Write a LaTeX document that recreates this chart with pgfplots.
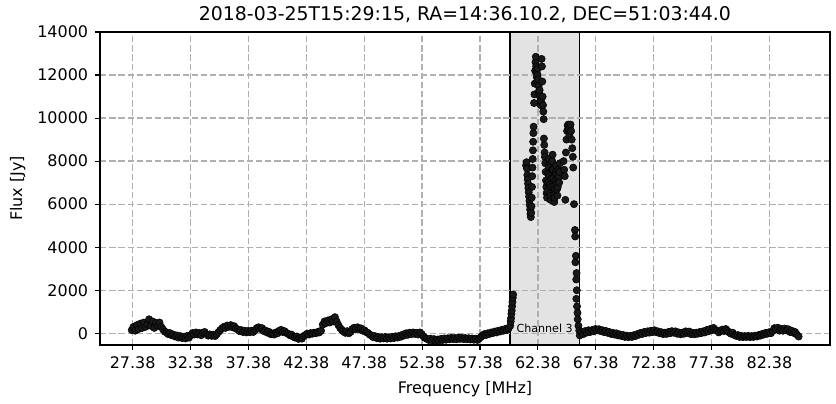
\documentclass[border=0pt]{standalone}
\usepackage{fontspec}
\setmainfont{DejaVu Sans}
\usepackage{pgfplots}
\pgfplotsset{compat=1.18}

% baseline left of the channel, channel 3 band, baseline right of it
\pgfplotstableread{
f flux
27.30 150
27.45 300
27.60 120
27.75 380
27.90 200
28.05 450
28.20 250
28.35 500
28.50 300
28.65 420
28.80 650
28.95 350
29.10 550
29.25 250
29.40 480
29.55 350
29.70 500
29.85 300
30.00 180
30.15 80
30.30 40
30.45 -40
30.60 10
30.75 -90
30.90 -60
31.05 -150
31.20 -100
31.35 -200
31.50 -130
31.65 -220
31.80 -160
31.95 -240
32.10 -120
32.25 -200
32.40 -80
32.55 10
32.70 -60
32.85 40
33.00 -50
33.15 10
33.30 -90
33.45 30
33.60 60
33.75 -40
33.90 -110
34.05 -50
34.20 -120
34.35 -60
34.50 -130
34.65 -40
34.80 60
34.95 150
35.10 230
35.25 300
35.40 250
35.55 360
35.70 300
35.85 380
36.00 280
36.15 330
36.30 220
36.45 180
36.60 100
36.75 150
36.90 60
37.05 120
37.20 40
37.35 110
37.50 50
37.65 120
37.80 60
37.95 150
38.10 240
38.25 280
38.40 200
38.55 240
38.70 100
38.85 130
39.00 30
39.15 70
39.30 -40
39.45 -10
39.60 -60
39.75 40
39.90 0
40.05 120
40.20 160
40.35 60
40.50 100
40.65 20
40.80 -20
40.95 -90
41.10 -60
41.25 -160
41.40 -200
41.55 -150
41.70 -260
41.85 -200
42.00 -250
42.15 -130
42.30 -80
42.45 -20
42.60 -60
42.75 10
42.90 -20
43.05 30
43.20 0
43.35 60
43.50 40
43.65 120
43.80 400
43.95 550
44.10 480
44.25 600
44.40 500
44.55 650
44.70 550
44.85 750
45.00 550
45.15 380
45.30 250
45.45 150
45.60 80
45.75 20
45.90 100
46.05 0
46.20 60
46.35 200
46.50 260
46.65 180
46.80 280
46.95 200
47.10 230
47.25 120
47.40 140
47.55 60
47.70 20
47.85 -60
48.00 -100
48.15 -180
48.30 -130
48.45 -220
48.60 -170
48.75 -250
48.90 -180
49.05 -240
49.20 -170
49.35 -250
49.50 -190
49.65 -240
49.80 -160
49.95 -220
50.10 -140
50.25 -200
50.40 -120
50.55 -160
50.70 -60
50.85 -100
51.00 0
51.15 -70
51.30 30
51.45 -40
51.60 40
51.75 -30
51.90 20
52.05 -60
52.20 40
52.35 -40
52.50 -150
52.65 -220
52.80 -260
52.95 -310
53.10 -250
53.25 -330
53.40 -270
53.55 -350
53.70 -290
53.85 -330
54.00 -260
54.15 -310
54.30 -240
54.45 -300
54.60 -230
54.75 -280
54.90 -210
55.05 -270
55.20 -220
55.35 -280
55.50 -200
55.65 -260
55.80 -210
55.95 -270
56.10 -220
56.25 -280
56.40 -230
56.55 -290
56.70 -240
56.85 -300
57.00 -250
57.15 -310
57.30 -250
57.45 -180
57.60 -100
57.75 -40
57.90 -80
58.05 0
58.20 -30
58.35 40
58.50 10
58.65 80
58.80 40
58.95 120
59.10 80
59.25 160
59.40 120
59.55 200
59.70 150
59.85 230
}\lowleft

\pgfplotstableread{
f flux
59.99 350
60.03 550
60.06 700
60.09 900
60.12 1050
60.15 1250
60.18 1450
60.21 1650
60.24 1800
61.36 7800
61.40 7950
61.44 7650
61.47 7350
61.50 7150
61.53 6950
61.56 6750
61.59 6550
61.62 6350
61.65 6150
61.68 5950
61.71 5750
61.74 5550
61.77 5400
61.80 5600
61.83 5900
61.85 6300
61.87 6800
61.89 7300
61.91 7700
61.93 8100
61.95 8500
61.97 8900
61.99 9300
62.01 9600
62.05 10700
62.08 11100
62.11 11600
62.14 12200
62.17 12600
62.20 12850
62.23 12400
62.26 12100
62.29 11900
62.32 11700
62.35 12000
62.38 12300
62.41 11800
62.44 11500
62.47 11250
62.50 11100
62.53 11300
62.56 11000
62.59 10800
62.62 10600
62.65 10800
62.70 12750
62.73 12400
62.76 11700
62.79 11000
62.82 10600
62.85 10300
62.88 9950
62.90 9050
62.93 8750
62.96 8400
62.99 8200
63.02 7900
63.05 7500
63.08 7100
63.11 6800
63.14 6500
63.17 6300
63.20 6600
63.23 7000
63.26 7400
63.29 7800
63.32 8100
63.35 7700
63.38 7300
63.41 6900
63.44 6500
63.47 6200
63.50 6400
63.53 6800
63.56 7200
63.59 7600
63.62 8000
63.65 8300
63.68 7600
63.71 7200
63.74 6800
63.77 6400
63.80 6100
63.83 6300
63.86 6700
63.89 7100
63.92 7500
63.95 7800
63.98 7400
64.01 7000
64.04 6700
64.07 6400
64.10 6800
64.13 7200
64.16 7600
64.19 7300
64.22 7000
64.25 7500
64.28 7900
64.60 8000
64.65 7600
64.70 7300
64.75 6200
64.80 8400
64.85 9000
64.90 9400
64.95 9650
65.00 9700
65.05 9500
65.10 9200
65.15 9600
65.20 9700
65.25 9400
65.30 9000
65.35 8600
65.40 8200
65.43 7700
65.50 6000
65.58 4800
65.60 4500
65.66 3600
65.62 3300
65.72 2800
65.69 2500
65.74 2000
65.70 1600
65.76 1250
65.80 950
65.82 650
65.88 350
65.95 120
}\band

\pgfplotstableread{
f flux
66.00 -100
66.15 50
66.30 -40
66.45 100
66.60 30
66.75 140
66.90 60
67.05 150
67.20 90
67.35 200
67.50 140
67.65 190
67.80 100
67.95 140
68.10 50
68.25 110
68.40 20
68.55 60
68.70 -30
68.85 20
69.00 -60
69.15 0
69.30 -100
69.45 -50
69.60 -130
69.75 -80
69.90 -170
70.05 -110
70.20 -180
70.35 -120
70.50 -170
70.65 -90
70.80 -130
70.95 -40
71.10 -70
71.25 20
71.40 -30
71.55 60
71.70 10
71.85 90
72.00 30
72.15 120
72.30 60
72.45 140
72.60 50
72.75 90
72.90 0
73.05 50
73.20 -40
73.35 30
73.50 -30
73.65 60
73.80 0
73.95 100
74.10 30
74.25 90
74.40 -20
74.55 40
74.70 -50
74.85 30
75.00 -20
75.15 90
75.30 20
75.45 80
75.60 -40
75.75 20
75.90 -50
76.05 30
76.20 -20
76.35 60
76.50 10
76.65 90
76.80 40
76.95 150
77.10 90
77.25 200
77.40 140
77.55 250
77.70 160
77.85 120
78.00 40
78.15 110
78.30 170
78.45 100
78.60 200
78.75 120
78.90 40
79.05 -20
79.20 30
79.35 -80
79.50 -120
79.65 -80
79.80 -170
79.95 -120
80.10 -180
80.25 -130
80.40 -170
80.55 -120
80.70 -180
80.85 -130
81.00 -170
81.15 -110
81.30 -150
81.45 -80
81.60 -110
81.75 -30
81.90 -60
82.05 20
82.20 -20
82.35 50
82.50 0
82.65 100
82.80 240
82.95 180
83.10 260
83.25 120
83.40 200
83.55 120
83.70 220
83.85 140
84.00 190
84.15 60
84.30 120
84.45 20
84.60 60
84.75 -60
84.90 -150
}\highright

\begin{document}
\begin{tikzpicture}
\useasboundingbox (0,0) rectangle (601.92pt,290.88pt);
\begin{axis}[
  at={(72pt,42.48pt)}, anchor=south west,
  scale only axis, width=525.6pt, height=225.36pt,
  xmin=24.56, xmax=87.61, ymin=-544, ymax=14000,
  xtick={27.38,32.38,37.38,42.38,47.38,52.38,57.38,62.38,67.38,72.38,77.38,82.38},
  xticklabels={27.38,32.38,37.38,42.38,47.38,52.38,57.38,62.38,67.38,72.38,77.38,82.38},
  ytick={0,2000,4000,6000,8000,10000,12000,14000},
  /pgf/number format/1000 sep={},
  /pgf/number format/assume math mode=true,
  scaled y ticks=false,
  tick pos=left, tick align=outside, major tick length=3.5pt,
  tick style={line width=0.8pt, black},
  axis line style={line width=0.8pt, black},
  tick label style={font=\fontsize{11.5}{13}\selectfont},
  xticklabel style={yshift=-1.5pt},
  yticklabel style={xshift=-1.5pt},
  grid=major,
  grid style={line width=0.9pt, color=black!31, dash pattern=on 4.6pt off 2pt},
  axis on top,
  title={2018-03-25T15:29:15, RA=14:36.10.2, DEC=51:03:44.0},
  title style={at={(axis description cs:0.5,1.0115)}, anchor=base, font=\fontsize{13.6}{16}\selectfont},
  xlabel={Frequency [MHz]},
  xlabel style={at={(axis description cs:0.5,-0.1535)}, anchor=base, font=\fontsize{11.5}{13}\selectfont},
  ylabel={Flux [Jy]},
  ylabel style={at={(axis description cs:-0.1065,0.5)}, anchor=base, font=\fontsize{11.5}{13}\selectfont},
]
\addplot[fill=black!11, draw=black, line width=0.8pt] coordinates {(59.97,-544) (59.97,14000) (65.96,14000) (65.96,-544)} -- cycle;
\addplot[only marks, mark=*, mark size=2.6pt, mark options={draw=none, fill=black!90}] table[x=f, y=flux] {\lowleft};
\addplot[only marks, mark=*, mark size=2.6pt, mark options={draw=none, fill=black!90}] table[x=f, y=flux] {\band};
\addplot[only marks, mark=*, mark size=2.6pt, mark options={draw=none, fill=black!90}] table[x=f, y=flux] {\highright};
\node[font=\fontsize{8}{9}\selectfont] at (axis cs:62.96,230) {Channel 3};
\end{axis}
\end{tikzpicture}
\end{document}
